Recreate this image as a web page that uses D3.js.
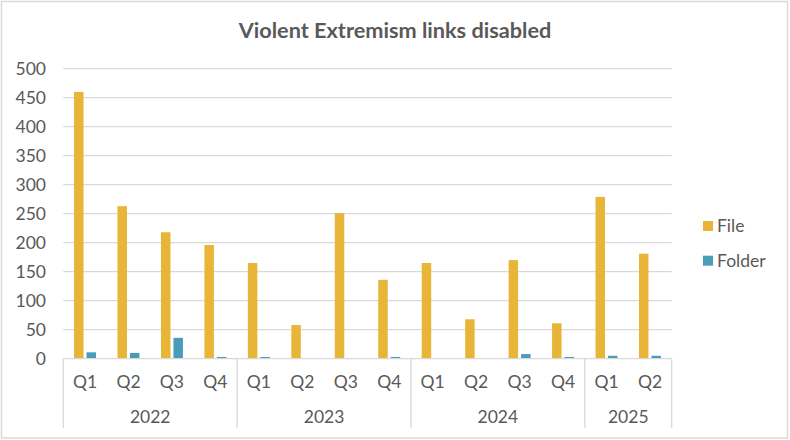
<!DOCTYPE html>
<html>
<head>
<meta charset="utf-8">
<script src="https://cdn.jsdelivr.net/npm/d3@7"></script>
<style>
  body { margin: 0; background: #fff; }
  svg { display: block; font-family: Lato, 'Open Sans', sans-serif; }
</style>
</head>
<body>
<svg id="chart" width="790" height="440"></svg>
<script>
// data
const years = ['2022', '2023', '2024', '2025'];
const quarters = [
  ['Q1', 'Q2', 'Q3', 'Q4'],
  ['Q1', 'Q2', 'Q3', 'Q4'],
  ['Q1', 'Q2', 'Q3', 'Q4'],
  ['Q1', 'Q2'],
];
const series = ['File', 'Folder'];
const fileValues = [460, 263, 218, 196, 165, 58, 251, 136, 165, 68, 170, 61, 279, 181];
const folderValues = [11, 10, 36, 3, 3, 0, 0, 3, 0, 0, 8, 3, 5, 5];
const yTicks = [0, 50, 100, 150, 200, 250, 300, 350, 400, 450, 500];

const COLORS = { File: '#E9B539', Folder: '#4A9DB8' };
const TEXT = '#595959';
const GRID = '#D9D9D9';
const FS = 17.5;

const width = 790;
const height = 440;
const margin = { left: 63.3, right: 671.7, top: 68.7, bottom: 358.7 };

const svg = d3.select('#chart');

// build flat category list
const cats = [];
quarters.forEach((qs, yi) => {
  qs.forEach(q => cats.push({ key: `${years[yi]}-${q}`, year: years[yi], q }));
});
cats.forEach((c, i) => {
  c.File = fileValues[i];
  c.Folder = folderValues[i];
});

// outer frame
svg.append('rect')
  .attr('x', 1.5).attr('y', 1.5)
  .attr('width', width - 4).attr('height', height - 3.5)
  .attr('fill', '#fff')
  .attr('stroke', GRID)
  .attr('stroke-width', 1.5);

const x0 = d3.scaleBand()
  .domain(cats.map(c => c.key))
  .range([margin.left, margin.right])
  .paddingInner(0)
  .paddingOuter(0);

const x1 = d3.scaleBand()
  .domain(series)
  .range([0, x0.bandwidth()])
  .paddingInner(0.24)
  .paddingOuter(0.86);

const y = d3.scaleLinear()
  .domain([0, 500])
  .range([margin.bottom, margin.top]);

// gridlines
svg.append('g')
  .selectAll('line')
  .data(yTicks.filter(t => t > 0))
  .enter()
  .append('line')
  .attr('x1', margin.left)
  .attr('x2', margin.right)
  .attr('y1', d => y(d))
  .attr('y2', d => y(d))
  .attr('stroke', GRID)
  .attr('stroke-width', 1.3);

// y axis labels
const yAxis = d3.axisLeft(y).tickValues(yTicks).tickSize(0).tickPadding(0);
const yG = svg.append('g')
  .attr('transform', 'translate(46,0)')
  .call(yAxis);
yG.select('.domain').remove();
yG.selectAll('text')
  .attr('fill', TEXT)
  .attr('font-size', FS)
  .attr('font-family', 'Lato, sans-serif');

// bars
const groups = svg.append('g')
  .selectAll('g')
  .data(cats)
  .enter()
  .append('g')
  .attr('transform', d => `translate(${x0(d.key)},0)`);

groups.selectAll('rect')
  .data(d => series.map(s => ({ s, v: d[s] })))
  .enter()
  .append('rect')
  .attr('x', d => x1(d.s))
  .attr('width', x1.bandwidth())
  .attr('y', d => y(d.v))
  .attr('height', d => y(0) - y(d.v))
  .attr('fill', d => COLORS[d.s]);

// category axis line
svg.append('line')
  .attr('x1', margin.left)
  .attr('x2', margin.right)
  .attr('y1', y(0))
  .attr('y2', y(0))
  .attr('stroke', GRID)
  .attr('stroke-width', 1.3);

// quarter labels
const xAxis = d3.axisBottom(x0)
  .tickFormat(k => cats.find(c => c.key === k).q)
  .tickSize(0)
  .tickPadding(0);
const xG = svg.append('g')
  .attr('transform', `translate(0,${y(0)})`)
  .call(xAxis);
xG.select('.domain').remove();
xG.selectAll('text')
  .attr('fill', TEXT)
  .attr('font-size', FS)
  .attr('font-family', 'Lato, sans-serif')
  .attr('dy', null)
  .attr('y', 29.5);

// year separators and labels
const yearSpans = years.map(yr => {
  const keys = cats.filter(c => c.year === yr).map(c => c.key);
  const start = x0(keys[0]);
  const end = x0(keys[keys.length - 1]) + x0.bandwidth();
  return { yr, start, end };
});
const bounds = [yearSpans[0].start].concat(yearSpans.map(d => d.end));

svg.append('g')
  .selectAll('line')
  .data(bounds)
  .enter()
  .append('line')
  .attr('x1', d => d)
  .attr('x2', d => d)
  .attr('y1', y(0))
  .attr('y2', 428)
  .attr('stroke', GRID)
  .attr('stroke-width', 1.3);

svg.append('g')
  .selectAll('text')
  .data(yearSpans)
  .enter()
  .append('text')
  .attr('x', d => (d.start + d.end) / 2)
  .attr('y', 423)
  .attr('text-anchor', 'middle')
  .attr('fill', TEXT)
  .attr('font-size', FS)
  .text(d => d.yr);

// title
svg.append('text')
  .attr('x', 395)
  .attr('y', 37.5)
  .attr('text-anchor', 'middle')
  .attr('fill', TEXT)
  .attr('font-size', 21.7)
  .attr('font-weight', 'bold')
  .text('Violent Extremism links disabled');

// legend
const legend = svg.append('g')
  .selectAll('g')
  .data(series)
  .enter()
  .append('g')
  .attr('transform', (d, i) => `translate(703,${221 + i * 34.7})`);

legend.append('rect')
  .attr('width', 10)
  .attr('height', 10)
  .attr('fill', d => COLORS[d]);

legend.append('text')
  .attr('x', 14)
  .attr('y', 11)
  .attr('fill', TEXT)
  .attr('font-size', FS)
  .text(d => d);
</script>
</body>
</html>
